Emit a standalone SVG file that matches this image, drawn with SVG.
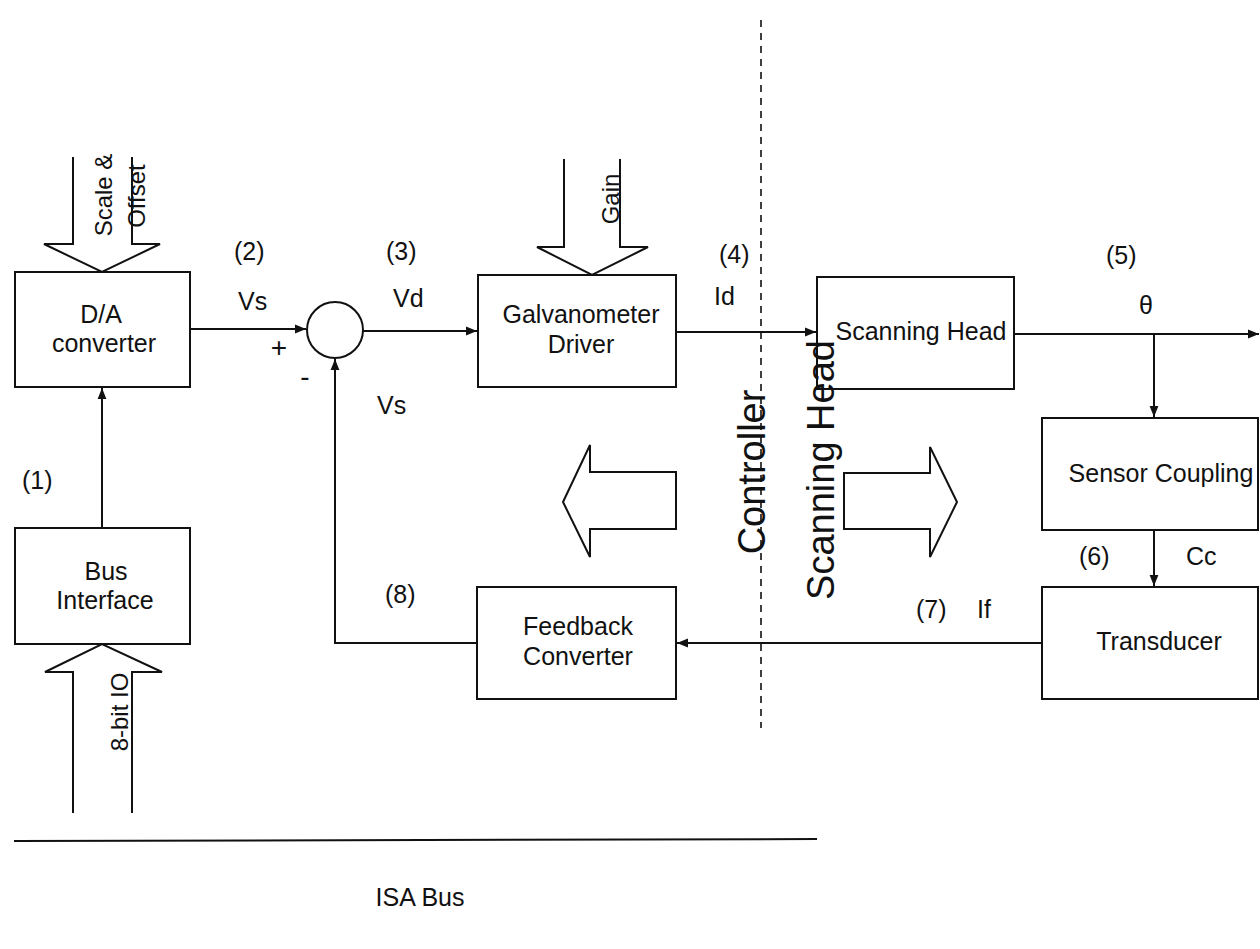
<svg xmlns="http://www.w3.org/2000/svg" width="1260" height="949" viewBox="0 0 1260 949">
<defs>
<marker id="ah" viewBox="0 0 10 10" refX="10" refY="5" markerWidth="11" markerHeight="11" markerUnits="userSpaceOnUse" orient="auto">
<path d="M0,1 L10,5 L0,9 Z" fill="#111"/>
</marker>
<style>
text{font-family:"Liberation Sans",Arial,sans-serif;fill:#111}
.box{fill:none;stroke:#111;stroke-width:2}
.bt{font-size:25px;text-anchor:middle}
.lb{font-size:25px}
.rt{font-size:24px;text-anchor:middle}
.big{font-size:38px;text-anchor:middle}
.ln{fill:none;stroke:#111;stroke-width:2}
.fat{fill:none;stroke:#111;stroke-width:2;stroke-linejoin:miter}
</style>
</defs>
<rect width="1260" height="949" fill="#fff"/>

<g id="connectors">
<line class="ln" x1="102" y1="528" x2="102" y2="388" marker-end="url(#ah)"/>
<line class="ln" x1="190" y1="329" x2="306" y2="329" marker-end="url(#ah)"/>
<line class="ln" x1="363" y1="331" x2="477" y2="331" marker-end="url(#ah)"/>
<line class="ln" x1="676" y1="332" x2="816" y2="332" marker-end="url(#ah)"/>
<line class="ln" x1="1014" y1="334" x2="1259" y2="334" marker-end="url(#ah)"/>
<line class="ln" x1="1154" y1="334" x2="1154" y2="417" marker-end="url(#ah)"/>
<line class="ln" x1="1154" y1="530" x2="1154" y2="586" marker-end="url(#ah)"/>
<line class="ln" x1="1042" y1="643" x2="677" y2="643" marker-end="url(#ah)"/>
<polyline class="ln" points="477,643 335,643 335,359" marker-end="url(#ah)"/>
<line x1="761" y1="20" x2="761" y2="728" stroke="#111" stroke-width="1.6" stroke-dasharray="7 6"/>
<line class="ln" x1="14" y1="841" x2="817" y2="839"/>
</g>

<g id="scale-offset-arrow">
<polyline class="fat" points="73,157 73,244 44,244 102,272 160,244 132,244 132,157"/>
<text class="rt" transform="translate(112,195) rotate(-90)">Scale &amp;</text>
<text class="rt" transform="translate(145,196) rotate(-90)">Offset</text>
</g>

<g id="gain-arrow">
<polyline class="fat" points="564,159 564,247 537,247 592,275 648,247 620,247 620,159"/>
<text class="rt" transform="translate(619,199) rotate(-90)">Gain</text>
</g>

<g id="io-arrow">
<polyline class="fat" points="73,813 73,672 45,672 102,644 162,672 132,672 132,813"/>
<text class="rt" transform="translate(128,712) rotate(-90)">8-bit IO</text>
</g>

<g id="da-converter">
<rect class="box" x="15" y="272" width="175" height="115"/>
<text class="bt" x="101" y="323">D/A</text>
<text class="bt" x="104" y="352">converter</text>
</g>

<g id="bus-interface">
<rect class="box" x="15" y="528" width="175" height="116"/>
<text class="bt" x="106" y="580">Bus</text>
<text class="bt" x="105" y="609">Interface</text>
</g>

<g id="summer">
<circle cx="335" cy="330" r="28" fill="none" stroke="#111" stroke-width="2"/>
<text x="279" y="357" text-anchor="middle" style="font-size:28px">+</text>
<text x="305" y="386" text-anchor="middle" style="font-size:28px">-</text>
</g>

<g id="galvanometer-driver">
<rect class="box" x="478" y="275" width="198" height="112"/>
<text class="bt" x="581" y="323">Galvanometer</text>
<text class="bt" x="581" y="353">Driver</text>
</g>

<g id="scanning-head">
<rect class="box" x="817" y="277" width="197" height="112"/>
<text class="bt" x="921" y="340">Scanning Head</text>
</g>

<g id="sensor-coupling">
<rect class="box" x="1042" y="418" width="216" height="112"/>
<text class="bt" x="1161" y="482">Sensor Coupling</text>
</g>

<g id="transducer">
<rect class="box" x="1042" y="587" width="216" height="112"/>
<text class="bt" x="1159" y="650">Transducer</text>
</g>

<g id="feedback-converter">
<rect class="box" x="477" y="587" width="199" height="112"/>
<text class="bt" x="578" y="635">Feedback</text>
<text class="bt" x="578" y="665">Converter</text>
</g>

<g id="left-arrow">
<polygon class="fat" points="676,472 590,472 590,445 563,502 590,557 590,529 676,529"/>
</g>

<g id="right-arrow">
<polygon class="fat" points="844,473 930,473 930,447 957,502 930,557 930,529 844,529"/>
</g>

<g id="region-labels">
<text class="big" transform="translate(765,472) rotate(-90)">Controller</text>
<text class="big" transform="translate(834,470) rotate(-90)">Scanning Head</text>
</g>

<g id="labels">
<text class="lb" x="22" y="489">(1)</text>
<text class="lb" x="234" y="260">(2)</text>
<text class="lb" x="238" y="310">Vs</text>
<text class="lb" x="386" y="260">(3)</text>
<text class="lb" x="393" y="307">Vd</text>
<text class="lb" x="377" y="414">Vs</text>
<text class="lb" x="719" y="263">(4)</text>
<text class="lb" x="714" y="305">Id</text>
<text class="lb" x="1106" y="264">(5)</text>
<text class="lb" x="1139" y="314">θ</text>
<text class="lb" x="1079" y="565">(6)</text>
<text class="lb" x="1186" y="565">Cc</text>
<text class="lb" x="916" y="618">(7)</text>
<text class="lb" x="977" y="618">If</text>
<text class="lb" x="385" y="603">(8)</text>
<text class="lb" x="420" y="906" text-anchor="middle">ISA Bus</text>
</g>
</svg>
